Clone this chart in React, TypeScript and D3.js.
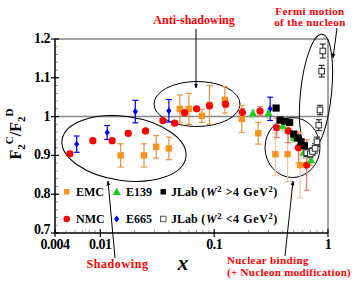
import React from 'react';
import * as d3 from 'd3';

// EMC (orange squares)
const emcX = [0.0151, 0.0242, 0.031, 0.040, 0.050, 0.060, 0.078, 0.091, 0.124, 0.175, 0.244, 0.345, 0.442, 0.57];
const emcY = [0.900, 0.900, 0.922, 0.918, 1.020, 1.020, 1.002, 1.030, 1.043, 0.994, 0.957, 0.903, 0.903, 0.875];
const emcErr = [0.030, 0.030, 0.029, 0.029, 0.036, 0.040, 0.017, 0.050, 0.034, 0.035, 0.028, 0.055, 0.070, 0.085];

// NMC (red circles)
const nmcX = [0.0054, 0.0086, 0.0127, 0.0176, 0.025, 0.0354, 0.045, 0.055, 0.070, 0.091, 0.126, 0.177, 0.253, 0.354, 0.447, 0.55, 0.65];
const nmcY = [0.904, 0.938, 0.938, 0.957, 0.963, 0.990, 0.983, 1.010, 1.020, 1.028, 1.032, 1.011, 1.014, 0.971, 0.963, 0.920, 0.875];
const nmcErr = [0.005, 0.005, 0.005, 0.005, 0.005, 0.005, 0.005, 0.006, 0.006, 0.007, 0.008, 0.010, 0.012, 0.025, 0.03, 0.04, 0.065];

// E665 (blue diamonds)
const e665X = [0.0062, 0.0115, 0.0203, 0.040, 0.31];
const e665Y = [0.929, 0.959, 1.013, 1.015, 1.020];
const e665Err = [0.021, 0.018, 0.029, 0.029, 0.030];

// E139 (green triangles)
const e139X = [0.219, 0.30, 0.40, 0.50, 0.61, 0.71];
const e139Y = [1.007, 1.008, 0.974, 0.944, 0.905, 0.886];
const e139Err = [0.010, 0.012, 0.010, 0.010, 0.012, 0.012];

// JLab W^2 > 4 GeV^2 (black squares)
const jlabHiX = [0.35, 0.38, 0.42, 0.46, 0.50, 0.54, 0.58, 0.62];
const jlabHiY = [1.022, 0.991, 0.988, 0.985, 0.955, 0.945, 0.935, 0.925];

// JLab W^2 < 4 GeV^2 (open squares)
const jlabLoX = [0.65, 0.70, 0.73, 0.77, 0.80, 0.83, 0.85, 0.88, 0.90];
const jlabLoY = [0.907, 0.904, 0.910, 0.918, 0.935, 0.978, 1.017, 1.117, 1.169];
const jlabLoErr = [0.010, 0.010, 0.010, 0.012, 0.012, 0.014, 0.012, 0.015, 0.018];

const xTicks = [0.004, 0.01, 0.1, 1];
const xTickLabels = ['0.004', '0.01', '0.1', '1'];
const yTicks = [0.7, 0.8, 0.9, 1.0, 1.1, 1.2];
const yTickLabels = ['0.7', '0.8', '0.9', '1', '1.1', '1.2'];

const W = 354;
const H = 283;
const L = 55, R = 328, T = 39, B = 233;
const serif = '"Liberation Serif", "Times New Roman", serif';
const ORANGE = '#f7931e';
const RED = '#ff0000';
const BLUE = '#0000ff';
const GREEN = '#22cc22';

const App: React.FC = () => {
  const x = d3.scaleLog().domain([0.004, 1]).range([L, R]);
  const y = d3.scaleLinear().domain([0.7, 1.2]).range([B, T]);

  const minorX = [
    ...d3.range(5, 10).map((d) => d * 0.001),
    ...d3.range(2, 10).map((d) => d * 0.01),
    ...d3.range(2, 10).map((d) => d * 0.1),
  ];
  const minorY = d3.range(0.72, 1.2, 0.02);

  const errBar = (xv: number, yv: number, e: number, color: string, cap = 3, key?: string) => (
    <g key={key} stroke={color} strokeWidth={1.2}>
      <line x1={x(xv)} x2={x(xv)} y1={y(yv - e)} y2={y(yv + e)} />
      <line x1={x(xv) - cap} x2={x(xv) + cap} y1={y(yv - e)} y2={y(yv - e)} />
      <line x1={x(xv) - cap} x2={x(xv) + cap} y1={y(yv + e)} y2={y(yv + e)} />
    </g>
  );

  const tri = d3.symbol().type(d3.symbolTriangle).size(30)() as string;
  const diamond = 'M0,-3.6L2.6,0L0,3.6L-2.6,0Z';

  return (
    <svg width={W} height={H} style={{ position: 'absolute', left: 0, top: 0, background: '#fff' }}
      fontFamily={serif}>
      <defs>
        <marker id="ah" viewBox="0 0 10 10" refX="9" refY="5" markerWidth="5" markerHeight="5" orient="auto">
          <path d="M0,1L10,5L0,9Z" fill="#000" />
        </marker>
      </defs>

      {/* frame */}
      <line x1={L} x2={R} y1={T} y2={T} stroke="#444" strokeWidth={1} />
      <line x1={R} x2={R} y1={T} y2={B} stroke="#444" strokeWidth={1} />
      <line x1={L} x2={R} y1={y(1)} y2={y(1)} stroke="#888" strokeWidth={1.5} />

      {/* minor ticks */}
      {minorX.map((d, i) => (
        <line key={'mx' + i} x1={x(d)} x2={x(d)} y1={B} y2={B - 3} stroke="#999" />
      ))}
      {minorY.map((d, i) => (
        <line key={'my' + i} x1={L} x2={L + 3} y1={y(d)} y2={y(d)} stroke="#999" />
      ))}

      {/* axes */}
      <line x1={L} x2={L} y1={T} y2={B} stroke="#000" strokeWidth={1.5} />
      <line x1={L} x2={R} y1={B} y2={B} stroke="#000" strokeWidth={1.5} />
      {yTicks.map((d, i) => (
        <g key={'yt' + i}>
          <line x1={L - 4} x2={L + 4} y1={y(d)} y2={y(d)} stroke="#000" strokeWidth={1.2} />
          <text x={L - 5} y={y(d) + (i === 0 ? 1 : 4)} textAnchor="end" fontSize={14} fontWeight="bold" letterSpacing={-0.5}>
            {yTickLabels[i]}
          </text>
        </g>
      ))}
      {xTicks.map((d, i) => (
        <g key={'xt' + i}>
          <line x1={x(d)} x2={x(d)} y1={B - 4} y2={B + 4} stroke="#000" strokeWidth={1.2} />
          <text x={x(d)} y={248.5} textAnchor="middle" fontSize={14} fontWeight="bold" letterSpacing={-0.5}>
            {xTickLabels[i]}
          </text>
        </g>
      ))}

      {/* axis titles */}
      <text x={183} y={270} textAnchor="middle" fontSize={21} fontWeight="bold" fontStyle="italic">x</text>
      <text transform="translate(21,134) rotate(-90)" textAnchor="middle" fontSize={16} fontWeight="bold">
        F<tspan fontSize={11} dy={4}>2</tspan>
        <tspan fontSize={11} dy={-12}>C</tspan>
        <tspan dy={8}>/F</tspan>
        <tspan fontSize={11} dy={4}>2</tspan>
        <tspan fontSize={11} dy={-12}>D</tspan>
      </text>

      {/* ellipses */}
      <g fill="none" stroke="#000" strokeWidth={1}>
        <ellipse cx={124} cy={148.5} rx={62.5} ry={32} transform="rotate(8 124 148.5)" />
        <ellipse cx={197} cy={104} rx={43} ry={22.5} />
        <ellipse cx={292.5} cy={147.5} rx={27.5} ry={30} />
        <ellipse cx={316} cy={93} rx={15.5} ry={59} transform="rotate(6 316 93)" />
      </g>

      {/* arrows */}
      <g stroke="#000" strokeWidth={1} markerEnd="url(#ah)">
        <line x1={196} y1={29} x2={196} y2={88} />
        <line x1={115} y1={258} x2={108} y2={181} />
        <line x1={285} y1={256} x2={293} y2={181} />
        <line x1={337} y1={28} x2={333} y2={58} />
      </g>

      {/* annotations */}
      <g fill={RED} fontWeight="bold">
        <text x={194} y={24} textAnchor="middle" fontSize={12}>Anti-shadowing</text>
        <text x={117.5} y={268} textAnchor="middle" fontSize={12} letterSpacing={0.6}>Shadowing</text>
        <text x={227} y={264} fontSize={11} letterSpacing={0.4}>Nuclear binding</text>
        <text x={227} y={276} fontSize={11} letterSpacing={0.3}>(+ Nucleon modification)</text>
        <text x={310} y={15} textAnchor="middle" fontSize={11} letterSpacing={0.4}>Fermi motion</text>
        <text x={310} y={26} textAnchor="middle" fontSize={11} letterSpacing={0.4}>of the nucleon</text>
      </g>

      {/* EMC error bars */}
      {emcX.map((d, i) => errBar(d, emcY[i], emcErr[i], emcErr[i] > 0.05 ? '#f5c49c' : '#e8923a', 3, 'ee' + i))}
      {/* NMC error bars */}
      {nmcX.map((d, i) => errBar(d, nmcY[i], nmcErr[i], '#ff7070', 3, 'ne' + i))}
      {/* E665 error bars */}
      {e665X.map((d, i) => errBar(d, e665Y[i], e665Err[i], BLUE, 3, 'be' + i))}
      {/* E139 error bars */}
      {e139X.map((d, i) => errBar(d, e139Y[i], e139Err[i], '#88dd88', 2, 'ge' + i))}
      {/* JLab open error bars */}
      {jlabLoX.map((d, i) => errBar(d, jlabLoY[i], jlabLoErr[i], '#333', 3, 'je' + i))}

      {/* markers */}
      {emcX.map((d, i) => (
        <rect key={'em' + i} x={x(d) - 3.2} y={y(emcY[i]) - 3.2} width={6.4} height={6.4} fill={ORANGE} />
      ))}
      {e665X.map((d, i) => (
        <path key={'bm' + i} d={diamond} transform={`translate(${x(d)},${y(e665Y[i])})`} fill={BLUE} />
      ))}
      {nmcX.map((d, i) => (
        <circle key={'nm' + i} cx={x(d)} cy={y(nmcY[i])} r={3.6} fill={RED} />
      ))}
      {e139X.map((d, i) => (
        <path key={'gm' + i} d={tri} transform={`translate(${x(d)},${y(e139Y[i])})`} fill={GREEN} />
      ))}
      {jlabHiX.map((d, i) => (
        <rect key={'jh' + i} x={x(d) - 3.6} y={y(jlabHiY[i]) - 3.6} width={7.2} height={7.2} fill="#000" />
      ))}
      {jlabLoX.map((d, i) => (
        <rect key={'jl' + i} x={x(d) - 2.8} y={y(jlabLoY[i]) - 2.8} width={5.6} height={5.6} fill="#fff" stroke="#333" strokeWidth={1} />
      ))}

      {/* legend */}
      <g fontWeight="bold" fontSize={12}>
        <rect x={64} y={189} width={5.5} height={5.5} fill={ORANGE} />
        <text x={76} y={196}>EMC</text>
        <path d={tri} transform="translate(116.7,192.5)" fill={GREEN} />
        <text x={126} y={196}>E139</text>
        <rect x={160.5} y={189} width={5.5} height={5.5} fill="#000" />
        <text x={171} y={196}>JLab
          <tspan fontSize={12} letterSpacing={0.6}> (<tspan fontStyle="italic">W</tspan><tspan fontSize={8.5} dy={-4}>2</tspan><tspan dy={4}> &gt;4 GeV</tspan><tspan fontSize={8.5} dy={-4}>2</tspan><tspan dy={4}>)</tspan></tspan>
        </text>

        <circle cx={66.7} cy={219} r={3.3} fill={RED} />
        <text x={76} y={223}>NMC</text>
        <path d={diamond} transform="translate(116.7,219)" fill={BLUE} />
        <text x={126} y={223}>E665</text>
        <rect x={160.5} y={216.2} width={5.5} height={5.5} fill="#fff" stroke="#333" strokeWidth={0.8} />
        <text x={171} y={223}>JLab
          <tspan fontSize={12} letterSpacing={0.6}> (<tspan fontStyle="italic">W</tspan><tspan fontSize={8.5} dy={-4}>2</tspan><tspan dy={4}> &lt;4 GeV</tspan><tspan fontSize={8.5} dy={-4}>2</tspan><tspan dy={4}>)</tspan></tspan>
        </text>
      </g>
    </svg>
  );
};

export default App;
